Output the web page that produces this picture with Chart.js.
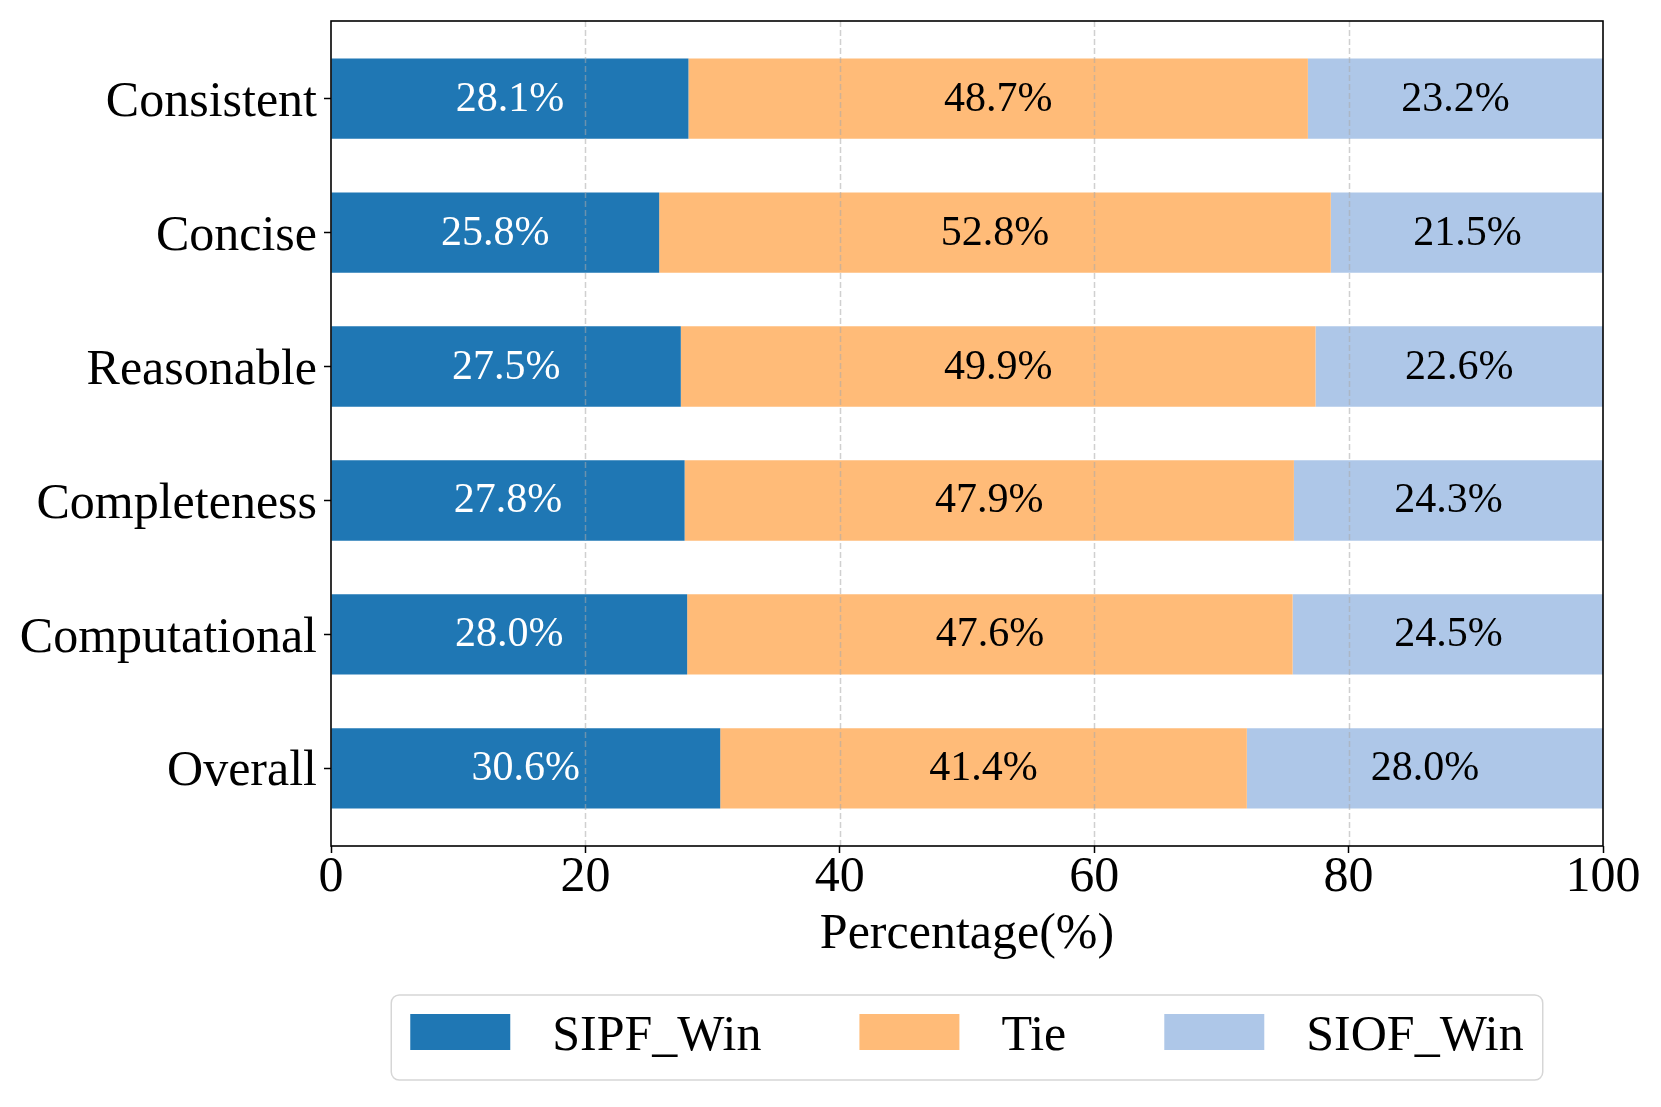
<!DOCTYPE html>
<html><head><meta charset="utf-8">
<script src="https://cdn.jsdelivr.net/npm/chart.js@4.4.1/dist/chart.umd.min.js"></script>
<style>html,body{margin:0;padding:0;background:#fff}canvas{display:block}</style>
</head><body>
<canvas id="c" width="1661" height="1107"></canvas>
<script>
const categories = ['Consistent','Concise','Reasonable','Completeness','Computational','Overall'];
const sipfWin = [28.1, 25.8, 27.5, 27.8, 28.0, 30.6];
const tie     = [48.7, 52.8, 49.9, 47.9, 47.6, 41.4];
const siofWin = [23.2, 21.5, 22.6, 24.3, 24.5, 28.0];
const seriesNames = ['SIPF_Win', 'Tie', 'SIOF_Win'];
const xTicks = [0, 20, 40, 60, 80, 100];
const axisTitle = 'Percentage(%)';

const colors = ['#1f77b4', '#ffbb78', '#aec7e8'];
const labelColors = ['#ffffff', '#000000', '#000000'];
const FONT = '"Liberation Serif", "Times New Roman", serif';

function toPoints(arr){ return arr.map((v,i)=>({x:v, y:i})); }

const overlay = {
  id: 'overlay',
  afterDatasetsDraw(chart){
    const {ctx, chartArea:a, scales:{x}} = chart;
    ctx.save();
    // dashed vertical grid on top of bars
    ctx.strokeStyle = 'rgba(170,170,170,0.55)';
    ctx.lineWidth = 1.5;
    ctx.setLineDash([6,3]);
    xTicks.slice(1,-1).forEach(v=>{
      const px = Math.round(x.getPixelForValue(v)) + 0.5;
      ctx.beginPath(); ctx.moveTo(px, a.top); ctx.lineTo(px, a.bottom); ctx.stroke();
    });
    ctx.setLineDash([]);
    // value labels
    ctx.font = '42px ' + FONT;
    ctx.textAlign = 'center';
    ctx.textBaseline = 'middle';
    chart.data.datasets.forEach((ds, di)=>{
      const meta = chart.getDatasetMeta(di);
      ctx.fillStyle = labelColors[di];
      meta.data.forEach((el, i)=>{
        const p = el.getProps(['x','y','base'], true);
        ctx.fillText(ds.data[i].x.toFixed(1) + '%', (p.x + p.base)/2, p.y + 1);
      });
    });
    // frame
    ctx.strokeStyle = '#000';
    ctx.lineWidth = 1.6;
    ctx.strokeRect(a.left, a.top, a.right - a.left, a.bottom - a.top);
    ctx.restore();
  },
  afterDraw(chart){
    const {ctx, chartArea:a} = chart;
    ctx.save();
    ctx.font = '50px ' + FONT;
    const hw = 100, hh = 36, gap = 42, colsp = 98, pad = 19, h = 85;
    const dss = chart.data.datasets;
    const ws = dss.map(d=>ctx.measureText(d.label).width);
    const total = pad*2 + ws.reduce((s,w)=>s+hw+gap+w, 0) + colsp*(ws.length-1);
    const cx = (a.left + a.right)/2;
    const left = cx - total/2;
    const top = a.bottom + 149;
    const r = 8;
    ctx.beginPath();
    ctx.moveTo(left + r, top);
    ctx.arcTo(left + total, top, left + total, top + h, r);
    ctx.arcTo(left + total, top + h, left, top + h, r);
    ctx.arcTo(left, top + h, left, top, r);
    ctx.arcTo(left, top, left + total, top, r);
    ctx.closePath();
    ctx.fillStyle = 'rgba(255,255,255,0.8)';
    ctx.fill();
    ctx.strokeStyle = '#d6d6d6';
    ctx.lineWidth = 1.5;
    ctx.stroke();
    let xx = left + pad;
    ctx.textAlign = 'left';
    ctx.textBaseline = 'alphabetic';
    dss.forEach((d, i)=>{
      ctx.fillStyle = d.backgroundColor;
      ctx.fillRect(xx, top + 19, hw, hh);
      ctx.fillStyle = '#000';
      ctx.fillText(d.label, xx + hw + gap, top + 55);
      xx += hw + gap + ws[i] + colsp;
    });
    ctx.restore();
  }
};

Chart.defaults.color = '#000';
Chart.defaults.font.family = FONT;

new Chart(document.getElementById('c'), {
  type: 'bar',
  data: {
    datasets: [
      {label: seriesNames[0], data: toPoints(sipfWin), backgroundColor: colors[0]},
      {label: seriesNames[1], data: toPoints(tie), backgroundColor: colors[1]},
      {label: seriesNames[2], data: toPoints(siofWin), backgroundColor: colors[2]}
    ]
  },
  options: {
    indexAxis: 'y',
    responsive: false,
    animation: false,
    devicePixelRatio: 1,
    datasets: { bar: { categoryPercentage: 1, barPercentage: 0.6, borderWidth: 0 } },
    layout: { padding: { top: 21, right: 58, bottom: 117, left: 0 } },
    plugins: { legend: { display: false }, tooltip: { enabled: false } },
    scales: {
      x: {
        type: 'linear', stacked: true, min: 0, max: 100, offset: false,
        afterBuildTicks(s){ s.ticks = xTicks.map(v=>({value:v})); },
        afterFit(s){ s.height = 144; s.paddingLeft = 0; s.paddingRight = 0; },
        ticks: { font: { size: 50, family: FONT, lineHeight: 1 }, padding: 0, color: '#000', maxRotation: 0,
                 callback: v => String(v) },
        grid: { display: true, offset: false, drawOnChartArea: false, drawTicks: true, tickLength: 7, tickColor: '#000', tickWidth: 1.5 },
        border: { display: false },
        title: { display: true, text: axisTitle, color: '#000', font: { size: 50, family: FONT, lineHeight: 1 }, padding: { top: 0, bottom: 30 } }
      },
      y: {
        type: 'linear', stacked: true, reverse: true, min: -0.58, max: 5.58, offset: false,
        afterBuildTicks(s){ s.ticks = categories.map((c,i)=>({value:i})); },
        afterFit(s){ s.width = 331; s.paddingTop = 0; s.paddingBottom = 0; },
        ticks: { font: { size: 50, family: FONT, lineHeight: 1 }, padding: 7, color: '#000', labelOffset: 4,
                 callback: v => categories[v] },
        grid: { display: true, offset: false, drawOnChartArea: false, drawTicks: true, tickLength: 7, tickColor: '#000', tickWidth: 1.5 },
        border: { display: false }
      }
    }
  },
  plugins: [overlay]
});
</script>
</body></html>
